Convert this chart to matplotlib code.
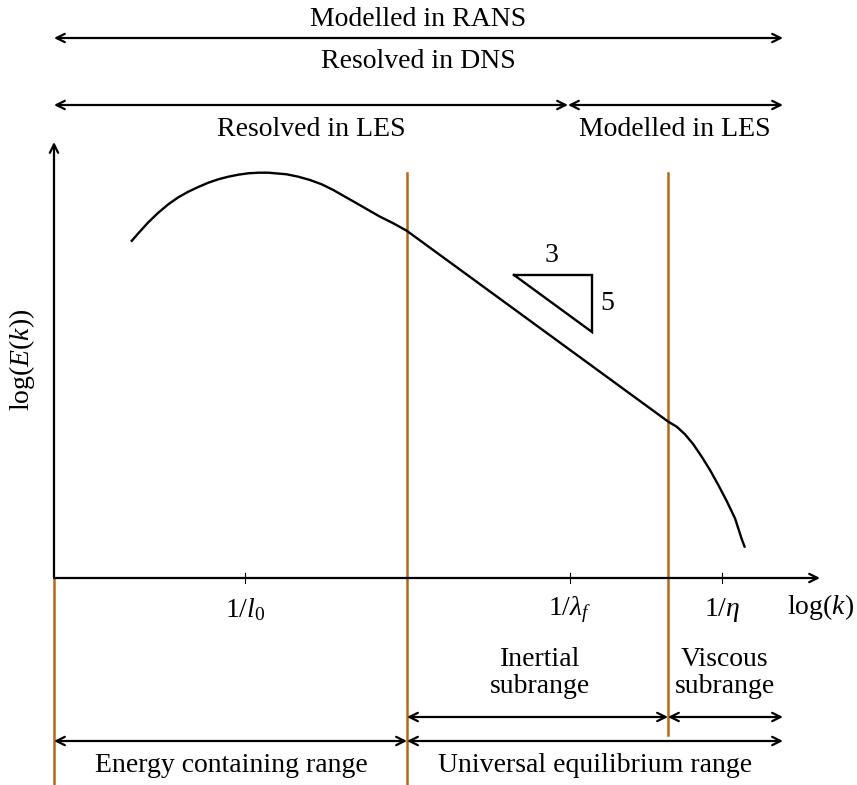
import matplotlib
matplotlib.use('Agg')

import numpy as np
import matplotlib.pyplot as plt

plt.rcParams['font.family'] = ['Liberation Serif', 'DejaVu Serif']
plt.rcParams['mathtext.fontset'] = 'custom'
plt.rcParams['mathtext.rm'] = 'Liberation Serif'
plt.rcParams['mathtext.it'] = 'Liberation Serif:italic'

# energy spectrum sketch, log(k) vs log(E(k)) in diagram units
spec_x = [77.0, 84.3, 94.3, 104.3, 114.3, 124.3, 134.3, 144.3, 154.3, 164.3, 174.3,
          184.3, 194.3, 204.3, 214.3, 232.7, 244.3, 256.0, 267.7, 279.3, 291.0,
          302.7, 314.3, 326.0, 339.3, 352.7,
          614.3, 622.7, 631.0, 639.3, 647.7, 656.0, 664.3, 672.7, 681.0, 687.7, 691.0]
spec_y = [336.3, 344.7, 355.7, 365.3, 373.7, 380.7, 386.3, 391.0, 395.3, 398.7, 401.3,
          403.3, 404.7, 405.3, 405.3, 403.7, 401.3, 398.0, 393.7, 388.0, 381.3,
          374.7, 368.0, 361.3, 354.7, 347.3,
          156.3, 151.3, 143.7, 133.7, 121.3, 108.0, 93.0, 77.0, 59.7, 39.0, 30.3]

tick_pos = [191, 516, 668]
tick_labels = [r'$1/l_0$', r'$1/\lambda_f$', r'$1/\eta$']

# range boundaries along log(k)
k_start = 0
k_les = 514
k_inertial = 353
k_viscous = 614
k_end = 729

# -5/3 slope triangle
tri_x = [460, 538, 538, 460]
tri_y = [303, 303, 246, 303]

orange = '#b0691c'
fs = 20
head = '<->,head_length=0.6,head_width=0.3'

fig = plt.figure(figsize=(8.57, 7.85), dpi=100)
ax = fig.add_axes([0, 0, 1, 1])
ax.set_xlim(-54, 803)
ax.set_ylim(-207, 578)
ax.axis('off')

def dbl_arrow(x0, x1, y):
    ax.annotate('', xy=(x1, y), xytext=(x0, y),
                arrowprops=dict(arrowstyle=head, lw=1.6, color='black',
                                shrinkA=0, shrinkB=0))

# axes with arrows
for tip in [(766, 0), (0, 436)]:
    ax.annotate('', xy=tip, xytext=(0, 0),
                arrowprops=dict(arrowstyle='->,head_length=0.6,head_width=0.3',
                                lw=1.6, color='black', shrinkA=0, shrinkB=0))

for xt, lab in zip(tick_pos, tick_labels):
    ax.plot([xt, xt], [-5, 5], color='black', lw=0.8)
    ax.text(xt, -32, lab, ha='center', va='center', fontsize=fs)

ax.text(767, -29, r'log($k$)', ha='center', va='center', fontsize=fs)
ax.text(-32, 218, r'log($E$($k$))', ha='center', va='center', rotation=90, fontsize=fs)

# vertical range separators
ax.plot([k_start, k_start], [0, -207], color=orange, lw=1.8)
ax.plot([k_inertial, k_inertial], [405, -207], color=orange, lw=1.8)
ax.plot([k_viscous, k_viscous], [405, -157], color=orange, lw=1.8)

ax.plot(spec_x, spec_y, color='black', lw=1.7, solid_capstyle='butt', solid_joinstyle='round')
ax.plot(tri_x, tri_y, color='black', lw=1.7, solid_joinstyle='miter')
ax.text(498, 322, '3', ha='center', va='center', fontsize=fs)
ax.text(553, 274, '5', ha='center', va='center', fontsize=fs)

# method ranges on top
ax.text(364, 558, 'Modelled in RANS', ha='center', va='center', fontsize=fs)
dbl_arrow(k_start, k_end, 540)
ax.text(364, 516, 'Resolved in DNS', ha='center', va='center', fontsize=fs)
dbl_arrow(k_start, k_les, 473)
dbl_arrow(k_les, k_end, 473)
ax.text(257, 448, 'Resolved in LES', ha='center', va='center', fontsize=fs)
ax.text(621, 448, 'Modelled in LES', ha='center', va='center', fontsize=fs)

# physical ranges at the bottom
ax.text(486, -95, 'Inertial\nsubrange', ha='center', va='center', fontsize=fs, linespacing=1.15)
ax.text(671, -95, 'Viscous\nsubrange', ha='center', va='center', fontsize=fs, linespacing=1.15)
dbl_arrow(k_inertial, k_viscous, -139)
dbl_arrow(k_viscous, k_end, -139)
dbl_arrow(k_start, k_inertial, -163)
dbl_arrow(k_inertial, k_end, -163)
ax.text(177, -187, 'Energy containing range', ha='center', va='center', fontsize=fs)
ax.text(541, -187, 'Universal equilibrium range', ha='center', va='center', fontsize=fs)

fig.savefig('out.png', dpi=100)
